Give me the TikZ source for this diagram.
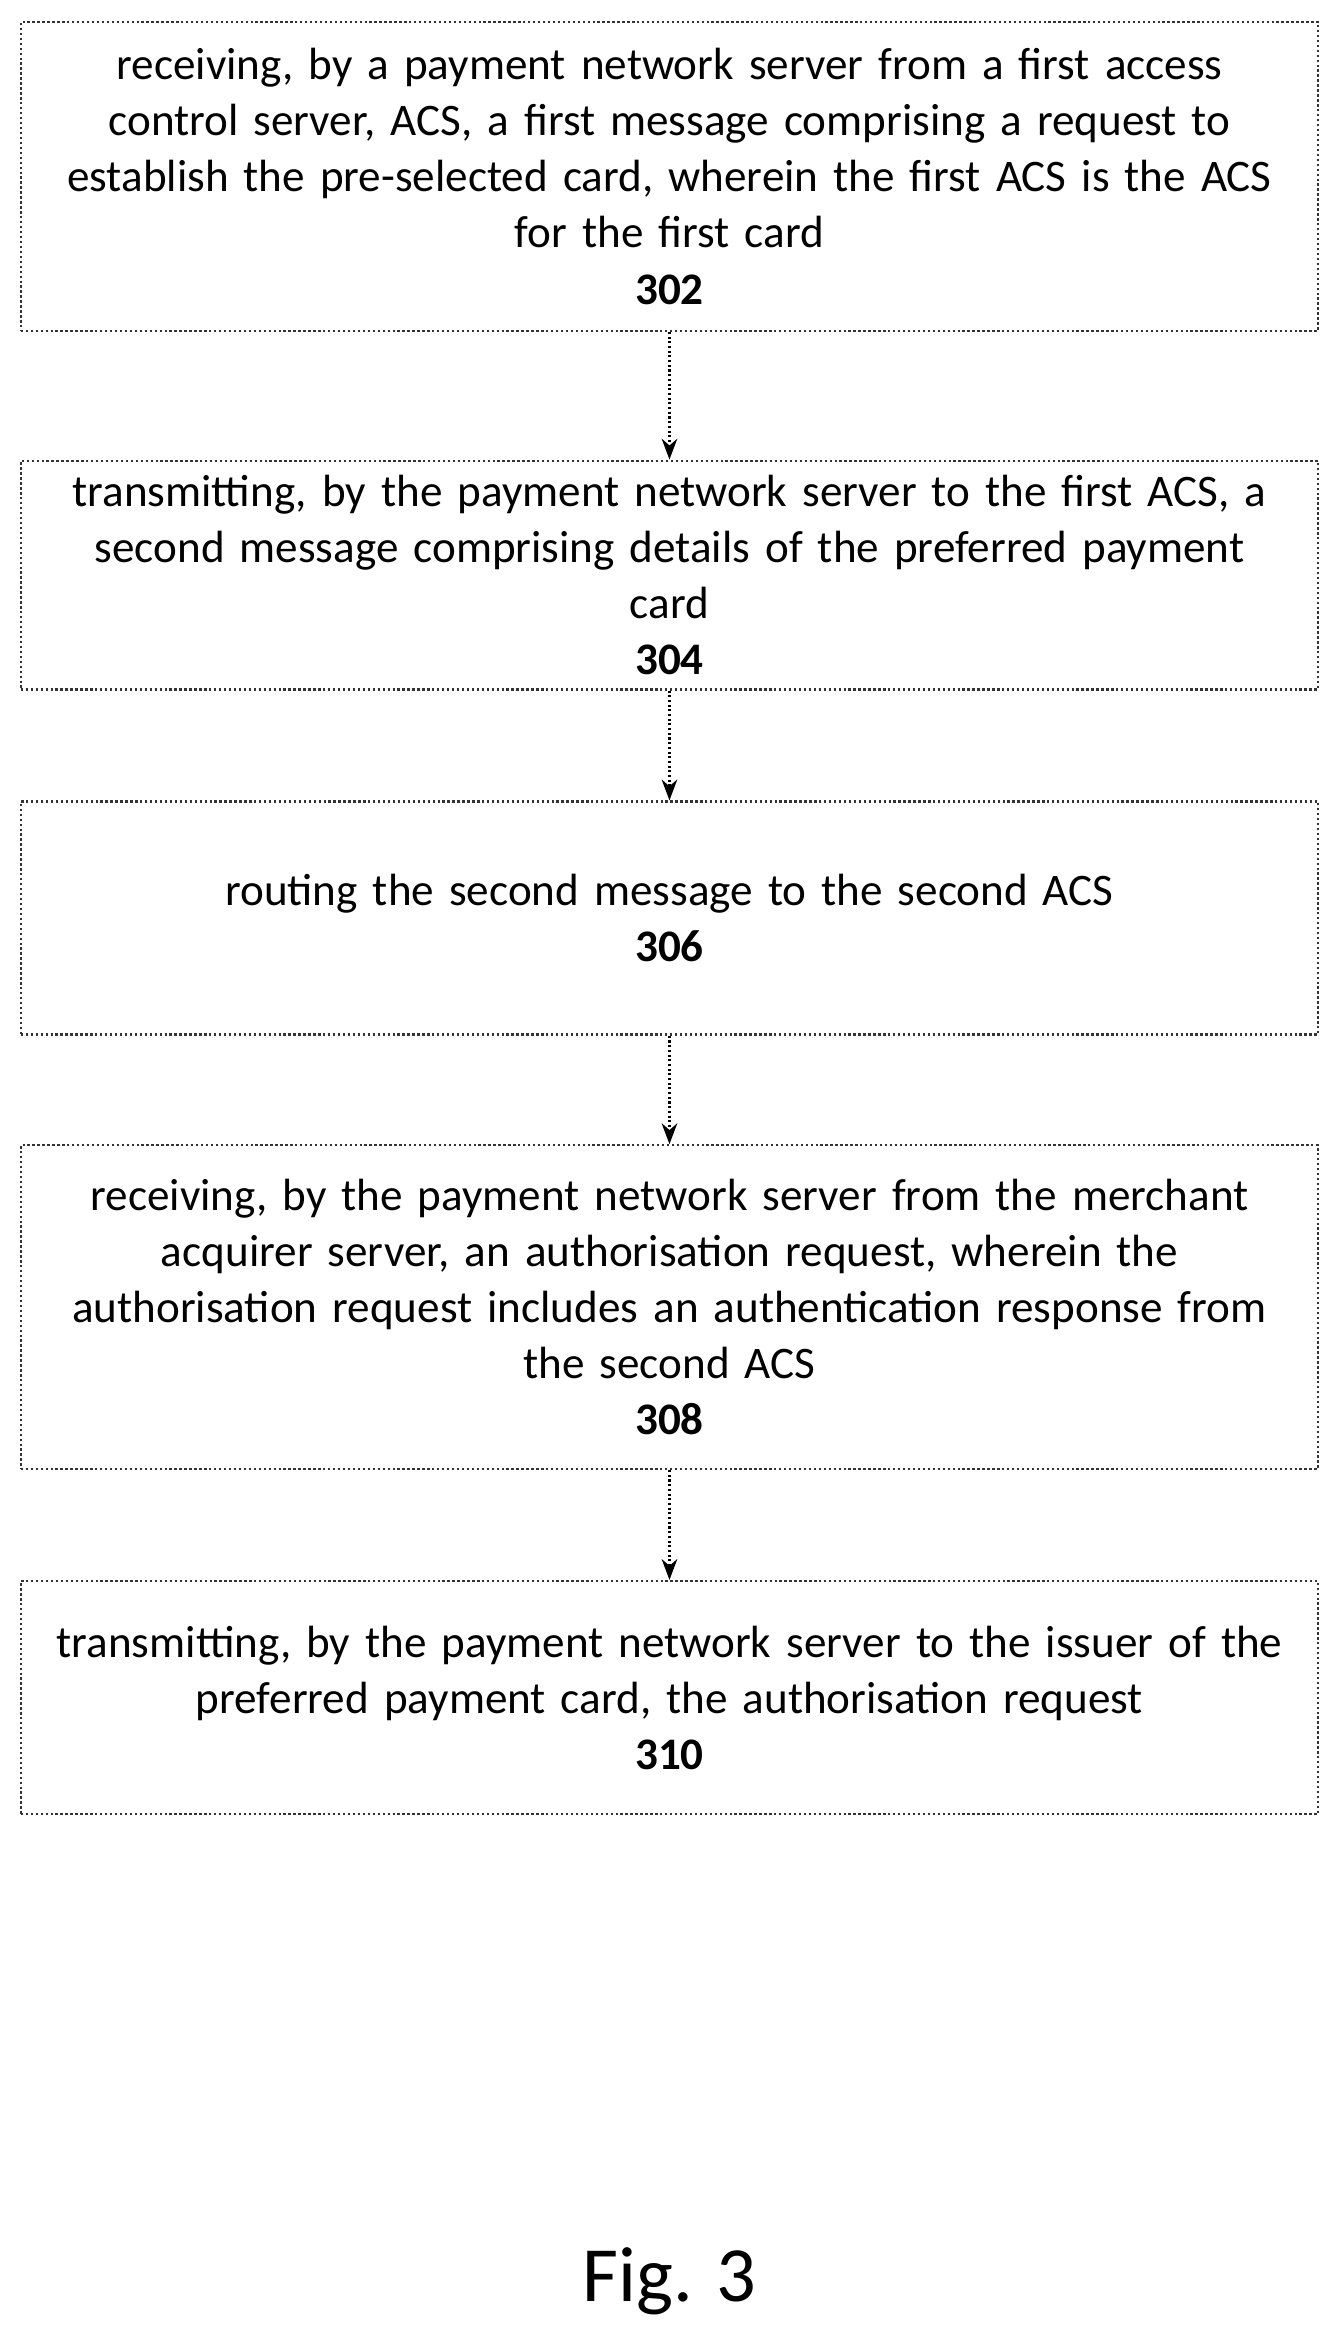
\documentclass[tikz,border=0pt]{standalone}
\usepackage{fontspec}
\setmainfont{Carlito}
\usetikzlibrary{positioning, arrows.meta}
\tikzstyle{stepbox} = [rectangle, draw=black!80, densely dotted, line width=0.9pt, minimum width=17.48cm, text width=17.3cm, align=center, font=\fontsize{17.3}{21.5}\selectfont, inner sep=0pt]
\tikzstyle{arrow} = [line width=0.8pt, densely dotted, -{Stealth[length=8pt,width=6pt]}]

\begin{document}
\begin{tikzpicture}[node distance=1.48cm]
            \useasboundingbox (0,0) rectangle (18.1,-31.42);
            \coordinate (top) at (9.02,-0.28);
            \node (s302) [stepbox, minimum height=4.16cm, below=0pt of top] {receiving, by a payment network server from a first access\\control server, ACS, a first message comprising a request to\\establish the pre-selected card, wherein the first ACS is the ACS\\for the first card\\\textbf{302}};
            \node (s304) [stepbox, minimum height=3.08cm, below=1.72cm of s302] {transmitting, by the payment network server to the first ACS, a\\second message comprising details of the preferred payment\\card\\\textbf{304}};
            \node (s306) [stepbox, minimum height=3.14cm, below=1.48cm of s304] {routing the second message to the second ACS\\\textbf{306}};
            \node (s308) [stepbox, minimum height=4.36cm, below=1.46cm of s306] {receiving, by the payment network server from the merchant\\acquirer server, an authorisation request, wherein the\\authorisation request includes an authentication response from\\the second ACS\\\textbf{308}};
            \node (s310) [stepbox, minimum height=3.14cm, below=1.48cm of s308] {transmitting, by the payment network server to the issuer of the\\preferred payment card, the authorisation request\\\textbf{310}};
            \node (fig) [below=5.7cm of s310, font=\fontsize{30}{36}\selectfont] {Fig. 3};

            \draw [arrow] (s302) -- (s304);
            \draw [arrow] (s304) -- (s306);
            \draw [arrow] (s306) -- (s308);
            \draw [arrow] (s308) -- (s310);
\end{tikzpicture}
\end{document}
